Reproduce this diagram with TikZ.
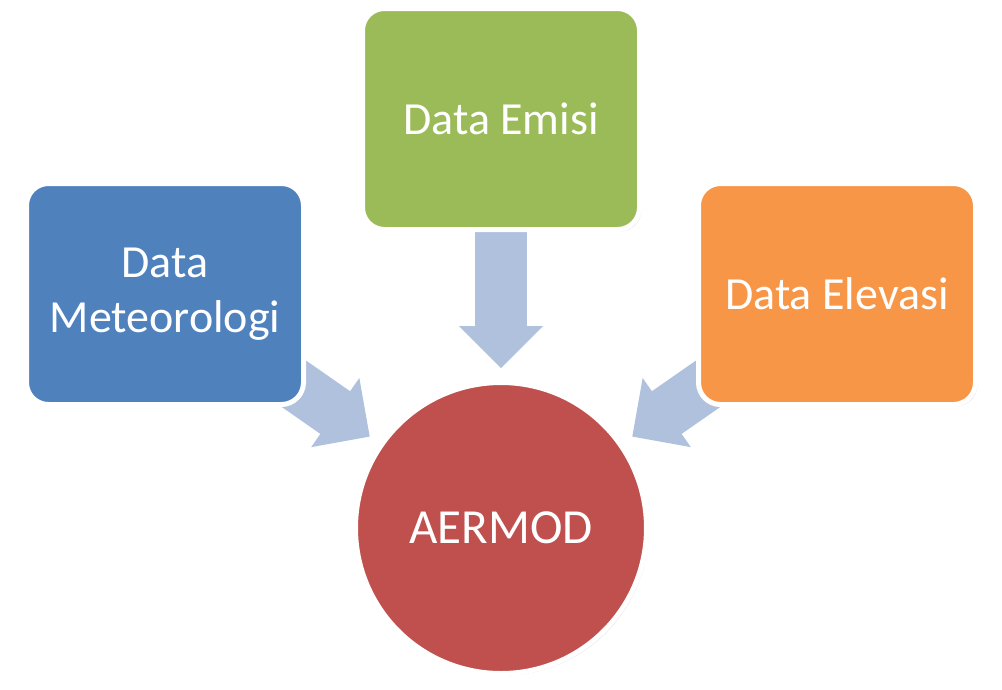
\documentclass[tikz,border=0pt]{standalone}
\usepackage{fontspec}
\setmainfont{Carlito}
\usepackage{tikz}
\usetikzlibrary{arrows.meta,backgrounds,positioning,shadows}
\definecolor{metblue}{RGB}{79,129,189}
\definecolor{emigreen}{RGB}{155,187,89}
\definecolor{eleorange}{RGB}{247,150,70}
\definecolor{aerred}{RGB}{192,80,77}
\definecolor{flowblue}{RGB}{176,193,222}
\tikzset{databox/.style={rectangle, rounded corners=22pt, draw=white, line width=5pt,
           minimum width=277pt, minimum height=221pt, inner sep=0pt,
           text=white, align=center, font=\fontsize{46}{55}\selectfont,
           drop shadow={shadow xshift=2pt, shadow yshift=-2pt, opacity=0.25, fill=black!60}},
         modelnode/.style={circle, draw=white, line width=5pt, fill=aerred,
           minimum size=291pt, inner sep=0pt, text=white, font=\fontsize{49}{59}\selectfont,
           drop shadow={shadow xshift=2pt, shadow yshift=-2pt, opacity=0.25, fill=black!60}},
         flow/.style={draw=flowblue, line width=52pt, shorten >=12pt,
           -{Triangle[width=84pt, length=42pt, line width=1.5pt 0]}}}
\begin{document}
\begin{tikzpicture}[x=1pt, y=-1pt]
  \useasboundingbox (0,0) rectangle (1002,689);

  \node[databox, fill=metblue] (meteo) at (165,294) {Data\\Meteorologi};
  \node[databox, fill=emigreen] (emisi) at (501,119) {Data Emisi};
  \node[databox, fill=eleorange] (elevasi) at (837,294) {Data Elevasi};
  \node[modelnode] (aermod) at (501,528) {AERMOD};

  \begin{scope}[on background layer]
    \draw[flow] (meteo.center) -- (aermod);
    \draw[flow] (emisi.center) -- (aermod);
    \draw[flow] (elevasi.center) -- (aermod);
  \end{scope}
\end{tikzpicture}
\end{document}
